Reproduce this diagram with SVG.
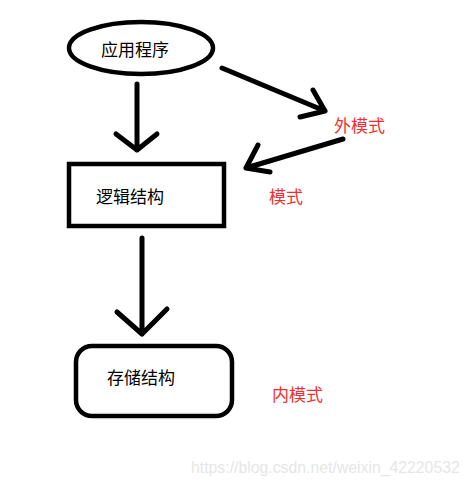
<svg xmlns="http://www.w3.org/2000/svg" width="471" height="486" viewBox="0 0 471 486">
<style>
.shape{fill:none;stroke:#000;stroke-width:4.5}
.conn{fill:none;stroke:#000;stroke-width:5;stroke-linecap:round;stroke-linejoin:round}
.lbl{font-family:"Noto Sans CJK SC","Liberation Sans",sans-serif;font-size:17px;fill:#000;dominant-baseline:central}
.red{font-family:"Noto Sans CJK SC","Liberation Sans",sans-serif;font-size:17px;fill:#f22f2f;dominant-baseline:central}
.wm{font-family:"Liberation Sans",Arial,sans-serif;font-size:15.8px;fill:#e6e6e6}
</style>
<rect width="471" height="486" fill="#fff"/>
<g id="app">
<ellipse class="shape" cx="141" cy="48" rx="72" ry="26"/>
<text class="lbl" x="101" y="48">应用程序</text>
</g>
<g id="logic">
<rect class="shape" x="69" y="164" width="155" height="62"/>
<text class="lbl" x="96" y="195">逻辑结构</text>
</g>
<g id="storage">
<rect class="shape" x="76" y="346" width="156" height="70" rx="16"/>
<text class="lbl" x="107" y="376">存储结构</text>
</g>
<g id="labels">
<text class="red" x="334" y="124">外模式</text>
<text class="red" x="269" y="195">模式</text>
<text class="red" x="272" y="393">内模式</text>
</g>
<g id="connectors">
<path class="conn" d="M137 84V150M116 134L137 150L157 134"/>
<path class="conn" d="M222 68L325 111M313 90L325 111L300 117"/>
<path class="conn" d="M343 139L246 168M258 145L246 168L270 172"/>
<path class="conn" d="M142 238V334M117 312L142 334L167 309"/>
</g>
<text class="wm" x="191" y="473">https://blog.csdn.net/weixin_42220532</text>
</svg>
